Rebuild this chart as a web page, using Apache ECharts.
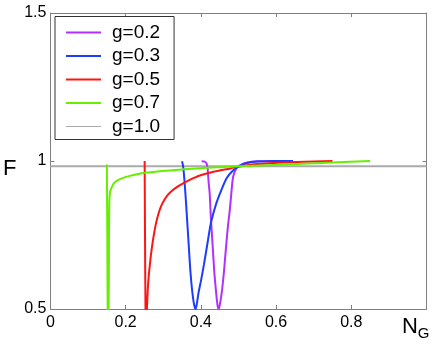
<!DOCTYPE html>
<html>
<head>
<meta charset="utf-8">
<script src="https://cdn.jsdelivr.net/npm/echarts@6/dist/echarts.min.js"></script>
<style>
  html, body { margin: 0; padding: 0; background: #fff; }
  #main { width: 436px; height: 346px; }
</style>
</head>
<body>
<div id="main"></div>
<script>
var seriesNames = ['g=0.2', 'g=0.3', 'g=0.5', 'g=0.7', 'g=1.0'];
var seriesColors = ['#b030ff', '#1c3cff', '#ff1414', '#66f000', '#aaaaaa'];

// [N_G, F]
var g02 = [[0.402, 0.999], [0.41, 0.998], [0.415, 0.992], [0.418, 0.975], [0.4205, 0.93], [0.4235, 0.89],
  [0.4265, 0.81], [0.429, 0.76], [0.432, 0.70], [0.436, 0.62], [0.441, 0.55], [0.444, 0.515], [0.447, 0.5],
  [0.45, 0.512], [0.455, 0.55], [0.461, 0.62], [0.467, 0.71], [0.472, 0.78], [0.4766, 0.83], [0.481, 0.891],
  [0.4855, 0.945], [0.494, 0.975], [0.505, 0.986], [0.523, 0.995], [0.55, 0.999], [0.6, 1.0]];
var g03 = [[0.350, 0.999], [0.353, 0.98], [0.356, 0.94], [0.36, 0.87], [0.364, 0.79], [0.368, 0.71],
  [0.372, 0.63], [0.377, 0.56], [0.382, 0.515], [0.386, 0.5], [0.389, 0.515], [0.394, 0.556], [0.401, 0.60],
  [0.408, 0.649], [0.419, 0.733], [0.4265, 0.79], [0.441, 0.857], [0.4545, 0.902], [0.468, 0.941],
  [0.4855, 0.968], [0.505, 0.984], [0.523, 0.993], [0.55, 0.998], [0.6, 1.0], [0.645, 1.0]];
var g05 = [[0.2505, 1.0], [0.2515, 0.75], [0.2528, 0.5], [0.2545, 0.48], [0.2565, 0.5], [0.259, 0.57],
  [0.262, 0.62], [0.267, 0.68], [0.273, 0.735], [0.280, 0.785], [0.288, 0.825], [0.297, 0.855], [0.31, 0.882],
  [0.324, 0.90], [0.34, 0.915], [0.359, 0.929], [0.38, 0.942], [0.399, 0.952], [0.434, 0.964], [0.478, 0.975],
  [0.5, 0.981], [0.523, 0.986], [0.58, 0.992], [0.655, 0.997], [0.75, 1.0]];
var g07 = [[0.150, 0.988], [0.1512, 0.75], [0.1522, 0.5], [0.1535, 0.48], [0.1548, 0.5], [0.1558, 0.75],
  [0.1565, 0.86], [0.158, 0.89], [0.16, 0.902], [0.169, 0.925], [0.182, 0.937], [0.195, 0.944], [0.209, 0.949],
  [0.23, 0.955], [0.253, 0.960], [0.297, 0.966], [0.355, 0.972], [0.417, 0.977], [0.5, 0.982], [0.58, 0.986],
  [0.655, 0.990], [0.75, 0.995], [0.85, 1.0]];
var g10 = [[0, 0.982], [1, 0.982]];
var allData = [g02, g03, g05, g07, g10];

var xTicks = [0, 0.2, 0.4, 0.6, 0.8];
var yTicks = [0.5, 1, 1.5];

var chart = echarts.init(document.getElementById('main'));
var font = 'Liberation Sans';

var frameAxis = {
  axisLine: { show: true, onZero: false, lineStyle: { color: '#808080', width: 1 } },
  axisTick: { show: true, inside: true, length: 4, lineStyle: { color: '#808080' } },
  splitLine: { show: false }
};

var series = seriesNames.map(function (name, i) {
  return {
    name: name,
    type: 'line',
    data: allData[i],
    showSymbol: false,
    smooth: i < 4 ? 0.2 : false,
    clip: true,
    lineStyle: { color: seriesColors[i], width: 2 },
    itemStyle: { color: seriesColors[i] },
    z: i < 4 ? 3 : 2
  };
});

var option = {
  animation: false,
  grid: { left: 49.5, top: 13, right: 9.5, bottom: 37 },
  legend: {
    orient: 'vertical',
    left: 55,
    top: 16.5,
    padding: [6, 14, 3, 11],
    itemWidth: 35,
    itemHeight: 2,
    itemGap: 3.5,
    borderColor: '#333',
    borderWidth: 1,
    icon: 'rect',
    data: seriesNames.map(function (n, i) {
      return i < 4 ? { name: n } : { name: n, icon: 'path://M0,0 H35 V1 H0 Z' };
    }),
    textStyle: { fontFamily: font, fontSize: 19, color: '#000', lineHeight: 20, padding: [0, 0, 0, 6] }
  },
  xAxis: [
    Object.assign({
      type: 'value', min: 0, max: 1, interval: 0.2, position: 'bottom',
      name: '{n|N}{s|G}',
      nameLocation: 'end',
      nameGap: 3,
      nameTextStyle: {
        align: 'right', verticalAlign: 'top', padding: [3, 0, 0, 0],
        rich: {
          n: { fontFamily: font, fontSize: 22, color: '#000' },
          s: { fontFamily: font, fontSize: 15, color: '#000', padding: [14, 0, 0, 0] }
        }
      },
      axisLabel: {
        fontFamily: font, fontSize: 16, color: '#000', margin: 6,
        formatter: function (v) { return xTicks.indexOf(+v.toFixed(1)) >= 0 ? String(+v.toFixed(1)) : ''; }
      }
    }, frameAxis),
    Object.assign({
      type: 'value', min: 0, max: 1, interval: 0.2, position: 'top',
      axisLabel: { show: false }
    }, frameAxis)
  ],
  yAxis: [
    Object.assign({
      type: 'value', min: 0.5, max: 1.5, interval: 0.5, position: 'left',
      name: 'F',
      nameLocation: 'middle',
      nameRotate: 0,
      nameGap: 34,
      nameTextStyle: { fontFamily: font, fontSize: 22, color: '#000', verticalAlign: 'top', lineHeight: 16 },
      axisLabel: {
        fontFamily: font, fontSize: 16, color: '#000', margin: 4,
        formatter: function (v) { return yTicks.indexOf(+v.toFixed(1)) >= 0 ? String(+v.toFixed(1)) : ''; }
      }
    }, frameAxis),
    Object.assign({
      type: 'value', min: 0.5, max: 1.5, interval: 0.5, position: 'right',
      axisLabel: { show: false }
    }, frameAxis)
  ],
  series: series
};

chart.setOption(option);
</script>
</body>
</html>
